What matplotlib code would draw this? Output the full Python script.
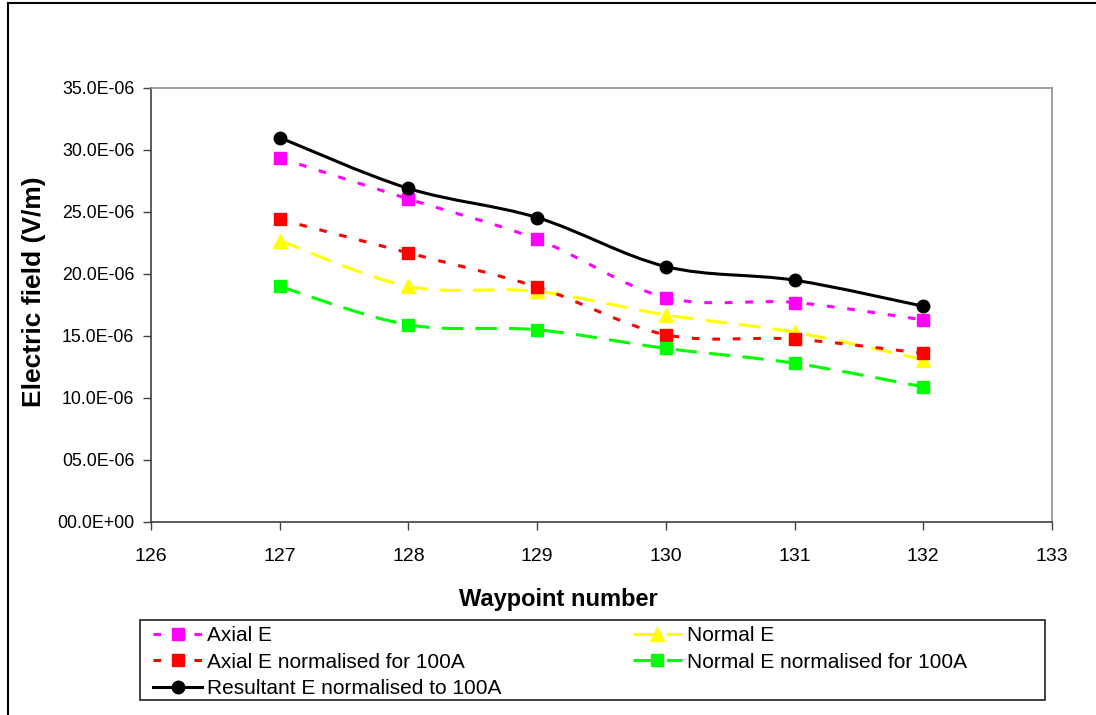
import matplotlib
matplotlib.use("Agg")
import matplotlib.pyplot as plt
from matplotlib.path import Path
from matplotlib.patches import PathPatch, Rectangle
from matplotlib.lines import Line2D
from matplotlib.ticker import FuncFormatter, MultipleLocator

plt.rcParams['font.family'] = ['Liberation Sans', 'DejaVu Sans']

waypoints = [127, 128, 129, 130, 131, 132]
axial_e = [29.35e-6, 26.05e-6, 22.8e-6, 18.1e-6, 17.7e-6, 16.3e-6]
normal_e = [22.7e-6, 19.0e-6, 18.6e-6, 16.7e-6, 15.3e-6, 13.1e-6]
axial_norm = [24.4e-6, 21.7e-6, 18.95e-6, 15.1e-6, 14.75e-6, 13.6e-6]
normal_norm = [19.0e-6, 15.9e-6, 15.5e-6, 14.0e-6, 12.8e-6, 10.9e-6]
resultant = [31.0e-6, 26.9e-6, 24.55e-6, 20.6e-6, 19.5e-6, 17.4e-6]

labels = ["Axial E", "Normal E", "Axial E normalised for 100A",
          "Normal E normalised for 100A", "Resultant E normalised to 100A"]


def smooth_path(xs, ys):
    # Excel-like smoothed line: cubic Bezier segments through the points
    pts = list(zip(xs, ys))
    verts = [pts[0]]
    codes = [Path.MOVETO]
    n = len(pts)
    for i in range(n - 1):
        p0 = pts[i - 1] if i > 0 else pts[i]
        p1 = pts[i]
        p2 = pts[i + 1]
        p3 = pts[i + 2] if i + 2 < n else pts[i + 1]
        c1 = (p1[0] + (p2[0] - p0[0]) / 6, p1[1] + (p2[1] - p0[1]) / 6)
        c2 = (p2[0] - (p3[0] - p1[0]) / 6, p2[1] - (p3[1] - p1[1]) / 6)
        verts += [c1, c2, p2]
        codes += [Path.CURVE4] * 3
    return Path(verts, codes)


fig = plt.figure(figsize=(10.96, 7.15), dpi=100)
ax = fig.add_axes([151 / 1096, 1 - 522 / 715, 901 / 1096, 434 / 715])

series = [
    (axial_e, '#FF00FF', (0, (2.5, 4.2)), 's', 9),
    (normal_e, '#FFFF00', (0, (7, 4)), '^', 10),
    (axial_norm, '#FF0000', (0, (2.5, 4.2)), 's', 9),
    (normal_norm, '#00FF00', (0, (7, 4)), 's', 9),
    (resultant, '#000000', '-', 'o', 9),
]

lw = 2.2
handles = []
for (vals, color, ls, marker, ms), lab in zip(series, labels):
    patch = PathPatch(smooth_path(waypoints, vals), fill=False, edgecolor=color,
                      linewidth=lw, linestyle=ls, zorder=2)
    ax.add_patch(patch)
    ax.plot(waypoints, vals, linestyle='none', marker=marker, markersize=ms,
            color=color, markeredgecolor=color, zorder=3)
    handles.append(Line2D([], [], color=color, linewidth=lw, linestyle=ls,
                          marker=marker, markersize=ms, markeredgecolor=color))

ax.set_xlim(126, 133)
ax.set_ylim(0, 35e-6)
ax.xaxis.set_major_locator(MultipleLocator(1))
ax.yaxis.set_major_locator(MultipleLocator(5e-6))


def yfmt(v, pos):
    if abs(v) < 1e-12:
        return "00.0E+00"
    return f"{v / 1e-6:04.1f}E-06"


ax.yaxis.set_major_formatter(FuncFormatter(yfmt))
ax.tick_params(direction='out', length=6, width=1, color='#404040')
ax.tick_params(axis='x', labelsize=14, pad=13)
ax.tick_params(axis='y', labelsize=12.8, pad=6)
for side in ['left', 'bottom']:
    ax.spines[side].set_color('#404040')
    ax.spines[side].set_linewidth(1.2)
for side in ['top', 'right']:
    ax.spines[side].set_color('#909090')
    ax.spines[side].set_linewidth(1.2)

ax.set_xlabel("Waypoint number", fontsize=17, fontweight='bold')
ax.set_ylabel("Electric field (V/m)", fontsize=19, fontweight='bold')
ax.xaxis.set_label_coords(0.452, -0.152)
ax.yaxis.set_label_coords(-0.117, 0.53)

# outer chart border (top and left only visible)
fig.add_artist(Line2D([8 / 1096, 8 / 1096], [0, 1 - 3 / 715], color='black',
                      linewidth=1.5, transform=fig.transFigure))
fig.add_artist(Line2D([8 / 1096, 1], [1 - 3 / 715, 1 - 3 / 715], color='black',
                      linewidth=1.5, transform=fig.transFigure))

# legend box
fig.add_artist(Rectangle((140 / 1096, 1 - 700 / 715), 905 / 1096, 80 / 715,
                         fill=False, edgecolor='#202020', linewidth=1.2,
                         transform=fig.transFigure))
order = [0, 2, 4, 1, 3]
fig.legend([handles[i] for i in order], [labels[i] for i in order],
           loc='upper left', bbox_to_anchor=(151 / 1096, 1 - 624 / 715),
           ncol=2, frameon=False, fontsize=15, handlelength=2.35,
           handletextpad=0.24, columnspacing=6.3, labelspacing=0.36,
           borderpad=0.1, borderaxespad=0)

fig.savefig("out.png", dpi=100)
